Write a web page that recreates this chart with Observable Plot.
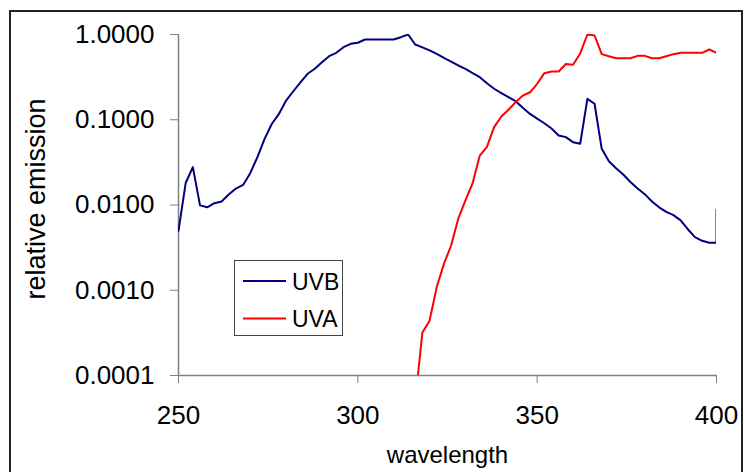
<!DOCTYPE html>
<html><head><meta charset="utf-8">
<script src="https://cdn.jsdelivr.net/npm/d3@7"></script>
<script src="https://cdn.jsdelivr.net/npm/@observablehq/plot@0.6"></script>
<style>
html,body{margin:0;padding:0;background:#fff;}
#wrap{position:relative;width:744px;height:472px;overflow:hidden;font-family:"Liberation Sans",Arial,sans-serif;}
#wrap svg{position:absolute;left:0;top:0;}
#border{position:absolute;left:9px;top:10px;width:734px;height:480px;border:2px solid #222;border-bottom:none;box-sizing:border-box;pointer-events:none;}
#legend{position:absolute;left:234px;top:260px;width:109px;height:76px;border:1px solid #444;background:#fff;box-sizing:border-box;}
</style></head>
<body><div id="wrap"><div id="border"></div></div>
<script>
const uvbWavelength = [250,252,254,256,258,260,262,264,266,268,270,272,274,276,278,280,282,284,286,288,290,292,294,296,298,300,302,304,306,308,310,312,314,316,318,320,322,324,326,328,330,332,334,336,338,340,342,344,346,348,350,352,354,356,358,360,362,364,366,368,370,372,374,376,378,380,382,384,386,388,390,392,394,396,398,400,400];
const uvbValues = [0.0050,0.0181,0.0278,0.0099,0.0094,0.0105,0.0110,0.0133,0.0156,0.0172,0.0236,0.0364,0.0596,0.0892,0.117,0.168,0.216,0.275,0.346,0.396,0.473,0.557,0.610,0.710,0.777,0.800,0.874,0.874,0.874,0.874,0.874,0.930,1.000,0.763,0.705,0.650,0.594,0.533,0.482,0.433,0.396,0.352,0.316,0.268,0.231,0.205,0.184,0.165,0.138,0.117,0.103,0.091,0.079,0.0654,0.0625,0.0546,0.0523,0.176,0.154,0.0456,0.0326,0.0270,0.0228,0.0186,0.0156,0.0134,0.0110,0.0094,0.0083,0.0076,0.0066,0.0052,0.0042,0.0038,0.0036,0.0036,0.0088];
const uvaWavelength = [316,318,320,322,324,326,328,330,332,334,336,338,340,342,344,346,348,350,352,354,356,358,360,362,364,366,368,370,372,374,376,378,380,382,384,386,388,390,392,394,396,398,400];
const uvaValues = [0.00005,0.00032,0.00044,0.00109,0.00204,0.00335,0.0069,0.0113,0.0180,0.038,0.048,0.082,0.109,0.131,0.161,0.192,0.210,0.264,0.352,0.368,0.368,0.450,0.442,0.600,1.000,0.973,0.588,0.557,0.527,0.527,0.527,0.562,0.562,0.527,0.527,0.557,0.588,0.610,0.610,0.610,0.610,0.667,0.610];
const xTicks = [250,300,350,400];
const yTicks = [1,0.1,0.01,0.001,0.0001];
const seriesNames = ["UVB","UVA"];
const seriesColors = ["#000080","#ff0000"];
const xTitle = "wavelength";
const yTitle = "relative emission";

const uvb = uvbWavelength.map((w,i)=>({w, v: uvbValues[i]}));
const uva = uvaWavelength.map((w,i)=>({w, v: uvaValues[i]}));

const chart = Plot.plot({
  width: 744, height: 472,
  marginLeft: 178, marginRight: 28, marginTop: 34, marginBottom: 97,
  style: {fontFamily: "'Liberation Sans', Arial, sans-serif", background: "transparent", overflow: "visible"},
  x: {domain: [250, 400]},
  y: {type: "log", domain: [0.0001, 1]},
  marks: [
    Plot.axisX({ticks: xTicks, tickSize: 8, tickPadding: 22, fontSize: 26, stroke: "#808080", fill: "#000", label: null, tickFormat: d3.format("d")}),
    Plot.axisY({ticks: yTicks, tickSize: 8, tickPadding: 16, fontSize: 26, stroke: "#808080", fill: "#000", label: null, tickFormat: d3.format(".4f")}),
    Plot.ruleX([250], {stroke: "#808080", strokeWidth: 1.5}),
    Plot.ruleY([0.0001], {stroke: "#808080", strokeWidth: 1.5}),
    Plot.line(uvb, {x: "w", y: "v", stroke: seriesColors[0], strokeWidth: 2, clip: true}),
    Plot.line(uva, {x: "w", y: "v", stroke: seriesColors[1], strokeWidth: 2, clip: true}),
    Plot.text([xTitle], {frameAnchor: "bottom", dy: 87, fontSize: 24, lineAnchor: "bottom", textAnchor: "middle", fill: "#000"}),
    Plot.text([yTitle], {frameAnchor: "left", dx: -134, dy: -6, rotate: -90, fontSize: 27, lineAnchor: "bottom", textAnchor: "middle", fill: "#000"})
  ]
});
const wrap = document.getElementById("wrap");
wrap.insertBefore(chart, wrap.firstChild);

// legend
const leg = document.createElement("div");
leg.id = "legend";
wrap.appendChild(leg);
const ls = d3.select(leg).append("svg").attr("width", 107).attr("height", 74).style("position","absolute").style("left","0").style("top","0");
seriesNames.forEach((name, i) => {
  const y = 20 + i * 37.5;
  ls.append("line").attr("x1", 8).attr("x2", 51).attr("y1", y).attr("y2", y).attr("stroke", seriesColors[i]).attr("stroke-width", 2);
  ls.append("text").attr("x", 57).attr("y", y + 8.5).attr("font-size", 23).attr("font-family", "'Liberation Sans', Arial, sans-serif").text(name);
});
</script>
</body></html>
